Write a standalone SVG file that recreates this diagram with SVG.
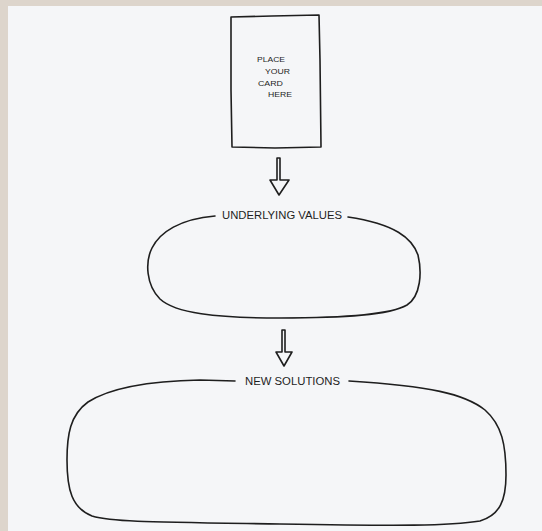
<svg xmlns="http://www.w3.org/2000/svg" width="542" height="531" viewBox="0 0 542 531">
<style>
.ln{fill:none;stroke:#1e1e1e;stroke-width:1.6;stroke-linecap:round;stroke-linejoin:round}
.lbl{font-family:"Liberation Sans","DejaVu Sans",sans-serif;fill:#1e1e1e;font-size:10px}
.card{font-family:"Liberation Sans","DejaVu Sans",sans-serif;fill:#1e1e1e;font-size:6.5px}
</style>
<rect x="0" y="0" width="542" height="531" fill="#ddd5cc"/>
<rect x="8" y="6" width="534" height="525" fill="#f5f6f8"/>
<g id="card">
<path class="ln" d="M231,17 L272,16 L319,15 L320,60 L321,147 L275,148 L232,147 L231,90 Z"/>
<text class="card" x="257" y="62" textLength="28" lengthAdjust="spacingAndGlyphs">PLACE</text>
<text class="card" x="265" y="74" textLength="25" lengthAdjust="spacingAndGlyphs">YOUR</text>
<text class="card" x="258" y="86" textLength="25" lengthAdjust="spacingAndGlyphs">CARD</text>
<text class="card" x="268" y="97" textLength="24" lengthAdjust="spacingAndGlyphs">HERE</text>
</g>
<g id="underlying-values">
<path class="ln" d="M215,216 C180,219 160,232 152,248 C145,262 146,285 160,299 C175,313 215,318 280,318 C345,318 390,315 407,305 C421,296 422,272 418,255 C412,238 395,224 348,217"/>
<text class="lbl" x="222" y="219" textLength="120" lengthAdjust="spacingAndGlyphs">UNDERLYING VALUES</text>
</g>
<g id="new-solutions">
<path class="ln" d="M235,381 L200,380 C150,381 110,388 88,402 C70,415 67,435 67,460 C67,490 72,508 92,516 C112,522 150,522 280,524 C400,526 450,526 480,521 C500,515 506,500 506,475 C506,445 502,425 485,410 C465,394 430,386 349,381"/>
<text class="lbl" x="245" y="385" textLength="95" lengthAdjust="spacingAndGlyphs">NEW SOLUTIONS</text>
</g>
<g id="connectors">
<path class="ln" d="M277,158 L277,180 L270,180 L279,195 L289,180 L280,180 L280,158 Z" fill="#f5f6f8"/>
<path class="ln" d="M282,330 L282,352 L276,352 L284,366 L292,352 L285,352 L285,330 Z" fill="#f5f6f8"/>
</g>
</svg>
